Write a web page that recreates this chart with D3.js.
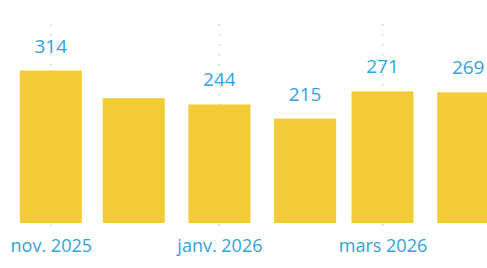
<!DOCTYPE html>
<html>
<head>
<meta charset="utf-8">
<script src="https://cdn.jsdelivr.net/npm/d3@7"></script>
<style>
  body { margin: 0; background: #fff; }
  svg text { font-family: "Open Sans", sans-serif; }
</style>
</head>
<body>
<div id="chart"></div>
<script>
// monthly values, one bar per month (bar centred on the 1st)
let months = ["2025-11-01", "2025-12-01", "2026-01-01", "2026-02-01", "2026-03-01", "2026-04-01"];
let values = [314, 257, 244, 215, 271, 269];
let showLabel = [true, false, true, true, true, true];
let tickMonths = ["2025-11-01", "2026-01-01", "2026-03-01"];
let tickLabels = ["nov. 2025", "janv. 2026", "mars 2026"];

let width = 487;
let height = 268;
let baseY = 223;
let parse = d3.timeParse("%Y-%m-%d");

let svg = d3.select("#chart").append("svg")
  .attr("width", width).attr("height", height);

let x = d3.scaleTime()
  .domain([parse("2025-11-01"), parse("2026-03-01")])
  .range([50.8, 382.5]);

let y = d3.scaleLinear()
  .domain([0, 314])
  .range([baseY, 70.5]);

let barW = 62;
let blue = "#34a2dc";

// dotted gridlines at the ticks
svg.append("g").selectAll("line")
  .data(tickMonths).enter().append("line")
  .attr("x1", d => x(parse(d))).attr("x2", d => x(parse(d)))
  .attr("y1", 24).attr("y2", 227)
  .attr("stroke", "#a9d5ef")
  .attr("stroke-width", 1.5)
  .attr("stroke-dasharray", "1.5 8.5");

let data = months.map((m, i) => ({date: parse(m), value: values[i], label: showLabel[i]}));

svg.append("g").selectAll("rect")
  .data(data).enter().append("rect")
  .attr("x", d => x(d.date) - barW / 2)
  .attr("width", barW)
  .attr("y", d => y(d.value))
  .attr("height", d => baseY - y(d.value))
  .attr("fill", "#f3cb37");

svg.append("g").selectAll("text")
  .data(data.filter(d => d.label)).enter().append("text")
  .attr("x", d => x(d.date))
  .attr("y", d => y(d.value) - 18)
  .attr("text-anchor", "middle")
  .attr("fill", blue)
  .style("font-size", "19px")
  .text(d => d.value);

let axis = svg.append("g")
  .attr("transform", "translate(0," + baseY + ")")
  .call(d3.axisBottom(x)
    .tickValues(tickMonths.map(parse))
    .tickFormat((d, i) => tickLabels[i])
    .tickSize(0)
    .tickPadding(16));

axis.select(".domain").remove();
axis.selectAll("text")
  .attr("fill", blue)
  .style("font-size", "18px")
  .style("font-family", "'Open Sans', sans-serif");
</script>
</body>
</html>
